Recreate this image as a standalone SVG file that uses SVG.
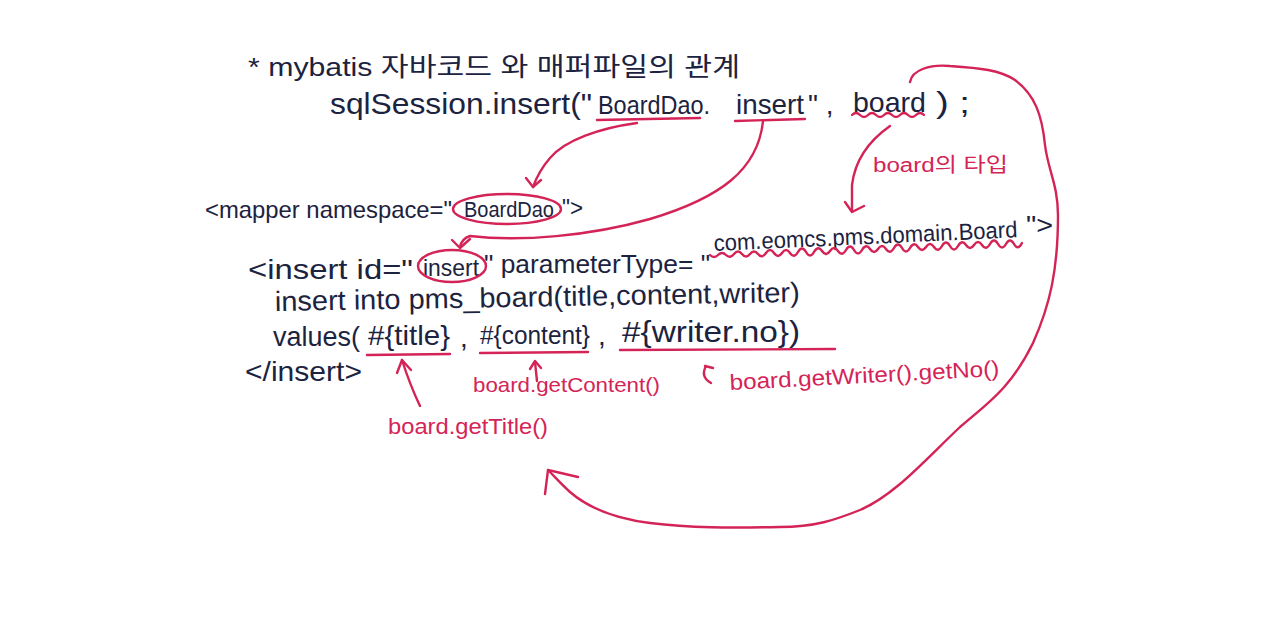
<svg xmlns="http://www.w3.org/2000/svg" width="1280" height="635" viewBox="0 0 1280 635">
<style>
.ink{font-family:"Liberation Sans","Noto Sans CJK KR",sans-serif;fill:#1c2340;}
.red{font-family:"Liberation Sans","Noto Sans CJK KR",sans-serif;fill:#d42457;}
.ln{fill:none;stroke:#d42457;stroke-width:2.4;stroke-linecap:round;stroke-linejoin:round;}
</style>
<rect width="1280" height="635" fill="#ffffff"/>
<g id="title">
<text class="ink" x="248" y="76" font-size="26" textLength="492" lengthAdjust="spacingAndGlyphs">* mybatis 자바코드 와 매퍼파일의 관계</text>
</g>
<g id="java-call">
<text class="ink" x="330" y="114" font-size="30" textLength="262" lengthAdjust="spacingAndGlyphs">sqlSession.insert("</text>
<text class="ink" x="598" y="114" font-size="26" textLength="112" lengthAdjust="spacingAndGlyphs">BoardDao.</text>
<text class="ink" x="736" y="114" font-size="28" textLength="68" lengthAdjust="spacingAndGlyphs">insert</text>
<text class="ink" x="808" y="114" font-size="28">" ,</text>
<text class="ink" x="853" y="112" font-size="28" textLength="73" lengthAdjust="spacingAndGlyphs">board</text>
<text class="ink" x="936" y="113" font-size="30" textLength="34" lengthAdjust="spacingAndGlyphs">) ;</text>
</g>
<g id="mapper">
<text class="ink" x="205" y="218" font-size="24" textLength="247" lengthAdjust="spacingAndGlyphs">&lt;mapper namespace="</text>
<text class="ink" x="464" y="217" font-size="21.5" textLength="90" lengthAdjust="spacingAndGlyphs">BoardDao</text>
<text class="ink" x="562" y="216" font-size="24" textLength="21" lengthAdjust="spacingAndGlyphs">"&gt;</text>
</g>
<g id="insert-tag">
<text class="ink" x="248" y="279" font-size="28" textLength="165" lengthAdjust="spacingAndGlyphs">&lt;insert id="</text>
<text class="ink" x="423" y="276" font-size="24" textLength="56" lengthAdjust="spacingAndGlyphs">insert</text>
<text class="ink" x="484" y="273" font-size="26" textLength="226" lengthAdjust="spacingAndGlyphs">" parameterType= "</text>
<text class="ink" x="714" y="251" font-size="23" textLength="304" lengthAdjust="spacingAndGlyphs" transform="rotate(-2.6 714 251)">com.eomcs.pms.domain.Board</text>
<text class="ink" x="1026" y="234" font-size="26" textLength="27" lengthAdjust="spacingAndGlyphs">"&gt;</text>
</g>
<g id="sql">
<text class="ink" x="275" y="311" font-size="28" textLength="525" lengthAdjust="spacingAndGlyphs" transform="rotate(-1 275 311)">insert into pms_board(title,content,writer)</text>
<text class="ink" x="273" y="346" font-size="27" textLength="87" lengthAdjust="spacingAndGlyphs">values(</text>
<text class="ink" x="368" y="345" font-size="28" textLength="82" lengthAdjust="spacingAndGlyphs">#{title}</text>
<text class="ink" x="460" y="347" font-size="28">,</text>
<text class="ink" x="480" y="344" font-size="25" textLength="110" lengthAdjust="spacingAndGlyphs">#{content}</text>
<text class="ink" x="598" y="345" font-size="28">,</text>
<text class="ink" x="622" y="342" font-size="30" textLength="178" lengthAdjust="spacingAndGlyphs">#{writer.no})</text>
<text class="ink" x="245" y="381" font-size="28" textLength="117" lengthAdjust="spacingAndGlyphs">&lt;/insert&gt;</text>
</g>
<g id="note-type">
<text class="red" x="873" y="172" font-size="20" textLength="135" lengthAdjust="spacingAndGlyphs">board의 타입</text>
</g>
<g id="note-title">
<text class="red" x="388" y="434" font-size="22" textLength="160" lengthAdjust="spacingAndGlyphs">board.getTitle()</text>
</g>
<g id="note-content">
<text class="red" x="473" y="392" font-size="21" textLength="187" lengthAdjust="spacingAndGlyphs">board.getContent()</text>
</g>
<g id="note-writer">
<text class="red" x="730" y="390" font-size="22" textLength="270" lengthAdjust="spacingAndGlyphs" transform="rotate(-3 730 390)">board.getWriter().getNo()</text>
</g>
<g id="connectors">
<path class="ln" d="M597,120 L700,118"/>
<path class="ln" d="M735,121 L805,119"/>
<path class="ln" d="M852,115 q4,-4 8,0 t8,0 t8,0 t8,0 t8,0 t8,0 t8,0 t8,0 t8,0"/>
<ellipse class="ln" cx="507" cy="209" rx="54" ry="15"/>
<ellipse class="ln" cx="452" cy="266" rx="34" ry="16"/>
<path class="ln" d="M710,255 q4,4 8,0 t8,0 t8,-1 t8,0 t8,0 t8,0 t8,-1 t8,0 t8,0 t8,0 t8,-1 t8,0 t8,0 t8,-1 t8,0 t8,0 t8,-1 t8,0 t8,0 t8,-1 t8,0 t8,0 t8,-1 t8,0 t8,0 t8,-1 t8,0 t8,0 t8,-1 t8,0 t8,0 t8,-1 t8,0 t8,0 t8,-1 t8,0 t8,0 t8,0 t8,-1"/>
<path class="ln" d="M367,355 L450,354"/>
<path class="ln" d="M480,353 L588,352"/>
<path class="ln" d="M620,350 L835,349"/>
<path class="ln" d="M637,123 C600,128 565,140 550,158 C543,166 537,176 533,187"/>
<path class="ln" d="M526,178 L533,187 L541,180"/>
<path class="ln" d="M763,121 C758,170 720,198 650,219 C590,236 520,242 470,236 C464,238 461,242 460,247"/>
<path class="ln" d="M452,240 L460,248 L470,239"/>
<path class="ln" d="M890,126 C870,140 855,160 852,185 L852,211"/>
<path class="ln" d="M845,202 L852,212 L864,206"/>
<path class="ln" d="M910,82 C912,70 930,64 950,66 C980,68 1000,70 1015,80 C1035,95 1042,115 1045,145 C1048,170 1058,185 1058,215 C1058,270 1050,305 1033,343 C1010,390 985,405 960,427 C925,460 895,495 860,510 C835,520 815,527 780,527 C730,528 690,528 650,523 C610,518 585,505 570,492 C562,485 556,478 548,470"/>
<path class="ln" d="M545,494 L548,470 L578,477"/>
<path class="ln" d="M537,381 L535,362"/>
<path class="ln" d="M530,369 L535,361 L541,368"/>
<path class="ln" d="M420,406 Q410,385 402,360"/>
<path class="ln" d="M397,373 L402,360 L411,370"/>
<path class="ln" d="M713,368 L705,366 M706,366 Q700,377 711,383"/>
</g>
</svg>
